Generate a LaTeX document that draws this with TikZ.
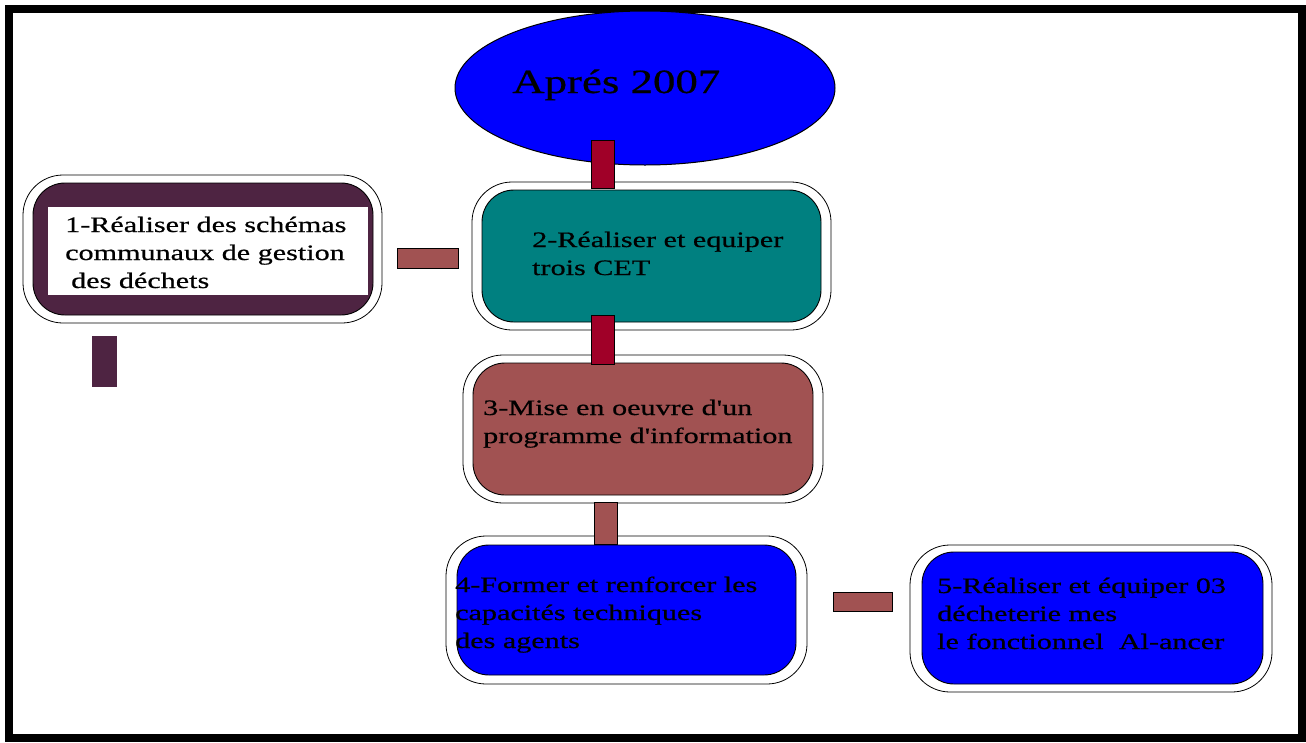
\documentclass[tikz,border=0pt]{standalone}
\usepackage{fontspec}
\newfontfamily\tf[FakeStretch=1.37,FakeBold=0.6]{Liberation Serif}
\newfontfamily\tfbig[FakeStretch=1.32,FakeBold=0.6]{Liberation Serif}
\usetikzlibrary{calc,shapes.geometric}
\definecolor{crim}{RGB}{160,0,40}
\definecolor{brownred}{RGB}{161,82,82}
\definecolor{plum}{RGB}{78,36,66}
\definecolor{tealc}{RGB}{0,128,128}
\definecolor{bluec}{RGB}{0,0,255}
\begin{document}
\begin{tikzpicture}[x=1pt,y=-1pt,
  frame/.style={draw=black,line width=8pt},
  shell/.style={draw=black,line width=0.8pt,fill=white,rounded corners=40pt,inner sep=0pt},
  core/.style={draw=black,line width=0.9pt,rounded corners=32pt,inner sep=0pt},
  txt/.style={anchor=base west,inner sep=0pt,font=\tf\fontsize{22}{28}\selectfont},
  linkred/.style={draw=black,line width=0.6pt,fill=crim},
  linkbrown/.style={draw=black,line width=0.6pt,fill=brownred},
  linkplum/.style={fill=plum}]
\path[use as bounding box, fill=white] (0,0) rectangle (1306,742);
\draw[frame] (9,9) rectangle (1302,738);

% ellipse
\node[ellipse,draw=black,line width=1pt,fill=bluec,minimum width=380pt,minimum height=154pt,inner sep=0pt] (e) at (645,88) {};
\node[anchor=base west,inner sep=0pt,font=\tfbig\fontsize{34}{40}\selectfont] (et) at (512,93) {Aprés 2007};

% box 1
\node[shell,minimum width=359pt,minimum height=148pt] (b1o) at (202.5,249) {};
\node[core,fill=plum,minimum width=340pt,minimum height=132pt] (b1) at (203,249) {};
\node[fill=white,inner sep=0pt,minimum width=320pt,minimum height=88pt] (b1w) at (208,251) {};
\node[txt] (t1) at (65,232) {\begin{tabular}[t]{@{}l@{}}1-Réaliser des schémas\\communaux de gestion\\\hspace{6pt}des déchets\end{tabular}};

% box 2
\node[shell,minimum width=359pt,minimum height=148pt] (b2o) at (651.5,256) {};
\node[core,fill=tealc,minimum width=339pt,minimum height=132pt] (b2) at (651.5,256) {};
\node[txt] (t2) at (532,247) {\begin{tabular}[t]{@{}l@{}}2-Réaliser et equiper\\trois CET\end{tabular}};

% box 3
\node[shell,minimum width=360pt,minimum height=148pt] (b3o) at (643,429) {};
\node[core,fill=brownred,minimum width=340pt,minimum height=132pt] (b3) at (643,429) {};
\node[txt] (t3) at (483,415) {\begin{tabular}[t]{@{}l@{}}3-Mise en oeuvre d'un\\programme d'information\end{tabular}};

% box 4
\node[shell,minimum width=361pt,minimum height=148pt] (b4o) at (626.5,610) {};
\node[core,fill=bluec,minimum width=339pt,minimum height=130pt] (b4) at (626.5,610) {};
\node[txt] (t4) at (455,592) {\begin{tabular}[t]{@{}l@{}}4-Former et renforcer les\\capacités techniques\\des agents\end{tabular}};

% box 5
\node[shell,minimum width=362pt,minimum height=147pt] (b5o) at (1091,618.5) {};
\node[core,fill=bluec,minimum width=341pt,minimum height=132pt] (b5) at (1092.5,618) {};
\node[txt] (t5) at (937,593) {\begin{tabular}[t]{@{}l@{}}5-Réaliser et équiper 03\\décheterie mes\\le fonctionnel\ \ Al-ancer\end{tabular}};

% connectors
\draw[linkred] ($(e.south)+(-54,-25)$) rectangle ($(b2.north)+(-37.5,-1)$);
\draw[linkred] ($(b2.south)+(-60.5,-7)$) rectangle ($(b3.north)+(-29,2)$);
\draw[linkbrown] ($(b3.south)+(-49,7)$) rectangle ($(b4.north)+(-9.5,0)$);
\draw[linkbrown] ($(b4o.east)+(26,-18)$) rectangle ($(b5o.west)+(-17,-7.5)$);
\draw[linkbrown] ($(b1o.east)+(15,-1)$) rectangle ($(b2o.west)+(-13,12)$);
\coordinate (pend) at ($(b1o.south)+(-85.5,64)$);
\fill[linkplum] ($(b1o.south)+(-110.5,13)$) rectangle (pend);
\end{tikzpicture}
\end{document}
